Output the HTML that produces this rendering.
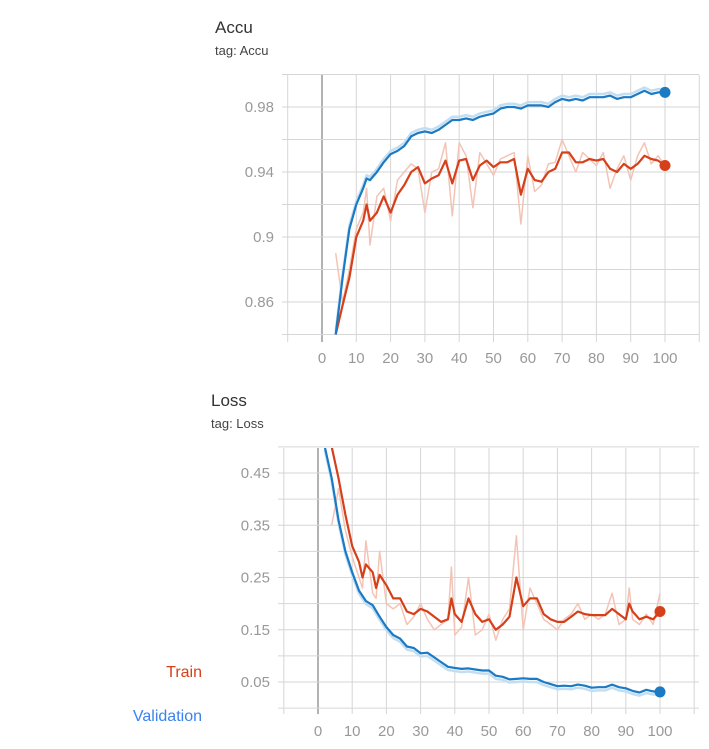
<!DOCTYPE html>
<html><head><meta charset="utf-8"><style>
html,body{margin:0;padding:0;background:#fff;width:709px;height:749px;overflow:hidden;font-family:"Liberation Sans",sans-serif}
svg text{font-family:"Liberation Sans",sans-serif}
</style></head><body>
<svg id="svg" width="709" height="749" xmlns="http://www.w3.org/2000/svg">
<text x="215" y="33" font-size="17" fill="#333">Accu</text>
<text x="215" y="55" font-size="13" fill="#444">tag: Accu</text>
<text x="211" y="406" font-size="17" fill="#333">Loss</text>
<text x="211" y="428" font-size="13" fill="#444">tag: Loss</text>
<text x="202" y="677" font-size="16" fill="#d5401a" text-anchor="end">Train</text>
<text x="202" y="721" font-size="16" fill="#3b82f0" text-anchor="end">Validation</text>
<g id="accu"></g>
<g id="loss"></g>
</svg>
<script>
const xTicks=[0,10,20,30,40,50,60,70,80,90,100];
const accuYTicks=[0.86,0.9,0.94,0.98];
const accuYTickLabels=["0.86","0.9","0.94","0.98"];
const lossYTicks=[0.05,0.15,0.25,0.35,0.45];
const lossYTickLabels=["0.05","0.15","0.25","0.35","0.45"];

const accuValEpochs=[4,6,8,10,12,13,14,16,18,20,22,24,26,28,30,32,34,36,38,40,42,44,46,48,50,52,54,56,58,60,62,64,66,68,70,72,74,76,78,80,82,84,86,88,90,92,94,96,98,100];
const accuVal=[0.84,0.875,0.905,0.92,0.93,0.936,0.935,0.94,0.946,0.951,0.953,0.956,0.962,0.964,0.965,0.964,0.966,0.969,0.972,0.972,0.973,0.972,0.974,0.975,0.976,0.979,0.980,0.980,0.979,0.981,0.981,0.981,0.980,0.983,0.985,0.984,0.985,0.984,0.986,0.986,0.986,0.987,0.985,0.986,0.986,0.988,0.990,0.988,0.989,0.989];
const accuTrainEpochs=[4,6,8,10,12,13,14,16,18,20,22,24,26,28,30,32,34,36,38,40,42,44,46,48,50,52,54,56,58,60,62,64,66,68,70,72,74,76,78,80,82,84,86,88,90,92,94,96,98,100];
const accuTrain=[0.84,0.858,0.875,0.9,0.91,0.92,0.91,0.915,0.925,0.915,0.926,0.932,0.94,0.943,0.933,0.936,0.938,0.947,0.933,0.947,0.948,0.935,0.944,0.947,0.943,0.946,0.946,0.948,0.926,0.942,0.935,0.934,0.940,0.942,0.952,0.952,0.946,0.946,0.948,0.947,0.948,0.942,0.940,0.945,0.942,0.945,0.950,0.948,0.947,0.944];
const accuTrainRaw=[0.89,0.86,0.88,0.905,0.915,0.93,0.895,0.925,0.93,0.91,0.935,0.94,0.945,0.942,0.915,0.94,0.942,0.958,0.913,0.958,0.95,0.918,0.952,0.945,0.938,0.948,0.95,0.952,0.908,0.95,0.928,0.932,0.945,0.946,0.96,0.95,0.94,0.952,0.948,0.944,0.952,0.93,0.942,0.95,0.935,0.95,0.958,0.945,0.95,0.944];

const lossValEpochs=[2,4,6,8,10,12,14,16,18,20,22,24,26,28,30,32,34,36,38,40,42,44,46,48,50,52,54,56,58,60,62,64,66,68,70,72,74,76,78,80,82,84,86,88,90,92,94,96,98,100];
const lossVal=[0.5,0.44,0.36,0.30,0.26,0.225,0.205,0.197,0.175,0.155,0.14,0.133,0.118,0.115,0.105,0.106,0.097,0.088,0.079,0.077,0.075,0.076,0.074,0.072,0.072,0.062,0.060,0.055,0.056,0.057,0.056,0.056,0.050,0.046,0.042,0.043,0.042,0.045,0.043,0.039,0.040,0.040,0.045,0.040,0.038,0.033,0.030,0.035,0.032,0.031];
const lossTrainEpochs=[4,6,8,10,12,13,14,16,17,18,20,22,24,26,28,30,32,34,36,38,39,40,42,44,46,48,50,52,54,56,58,60,62,64,66,68,70,72,74,76,78,80,82,84,86,88,90,91,92,94,96,98,100];
const lossTrain=[0.5,0.44,0.37,0.31,0.28,0.25,0.275,0.26,0.23,0.255,0.235,0.21,0.21,0.185,0.18,0.19,0.185,0.175,0.165,0.17,0.21,0.18,0.165,0.21,0.18,0.165,0.17,0.15,0.16,0.175,0.25,0.195,0.21,0.21,0.18,0.17,0.165,0.165,0.175,0.185,0.18,0.178,0.178,0.178,0.19,0.18,0.17,0.20,0.185,0.17,0.175,0.17,0.185];
const lossTrainRaw=[0.35,0.42,0.34,0.29,0.25,0.23,0.32,0.22,0.21,0.30,0.2,0.19,0.2,0.16,0.175,0.2,0.17,0.15,0.16,0.17,0.27,0.14,0.155,0.25,0.14,0.15,0.18,0.13,0.17,0.19,0.33,0.15,0.23,0.2,0.17,0.16,0.15,0.17,0.18,0.2,0.17,0.18,0.17,0.18,0.22,0.16,0.17,0.23,0.17,0.16,0.18,0.16,0.22];

const NS="http://www.w3.org/2000/svg";
function mk(parent,tag,attrs){const e=document.createElementNS(NS,tag);for(const k in attrs)e.setAttribute(k,attrs[k]);parent.appendChild(e);return e;}

function drawChart(g,cfg){
  const sx=v=>cfg.x0+(v-0)*(cfg.x100-cfg.x0)/100;
  const sy=v=>cfg.yA+(v-cfg.vA)*(cfg.yB-cfg.yA)/(cfg.vB-cfg.vA);
  for(let t=-10;t<=110;t+=10){
    const l=mk(g,'line',{x1:sx(t),x2:sx(t),y1:cfg.top,y2:cfg.bottom+6,stroke:t===0?'#999':'#d6d6d6','stroke-width':t===0?1.5:1});
    
    
  }
  for(let v=cfg.gridStart;v<=cfg.gridEnd+1e-9;v+=cfg.gridStep){
    const l=mk(g,'line',{x1:cfg.left-6,x2:cfg.right,y1:sy(v),y2:sy(v),stroke:'#d6d6d6','stroke-width':1});
    
    
  }
  xTicks.forEach(t=>{
    const tx=mk(g,'text',{x:sx(t),y:cfg.xLabelY,'font-size':15,fill:'#999','text-anchor':'middle'});
    tx.textContent=t;
    
    
  });
  cfg.yTicks.forEach((t,i)=>{
    const tx=mk(g,'text',{x:cfg.left-14,y:sy(t)+5,'font-size':15,fill:'#999','text-anchor':'end'});
    tx.textContent=cfg.yLabels[i];
    
    
  });
  const cid='clip'+cfg.id;
  const defs=mk(g,'defs',{});
  const cp=mk(defs,'clipPath',{id:cid});
  mk(cp,'rect',{x:cfg.left,y:cfg.top,width:cfg.right-cfg.left,height:cfg.bottom-cfg.top});
  const pg=mk(g,'g',{'clip-path':'url(#'+cid+')'});
  const path=(xs,ys)=>xs.map((x,i)=>(i?'L':'M')+sx(x).toFixed(1)+','+sy(ys[i]).toFixed(1)).join('');
  cfg.series.forEach(s=>{
    const p=mk(pg,'path',{d:path(s.x,s.y),fill:'none',stroke:s.color,'stroke-width':s.w,'stroke-linejoin':'round',opacity:s.op||1});
    
    
  });
  cfg.series.filter(s=>s.dot).forEach(s=>{
    const n=s.x.length-1;
    const c=mk(g,'circle',{cx:sx(s.x[n]),cy:sy(s.y[n]),r:5.5,fill:s.color});
    
    
  });
}

drawChart(document.getElementById('accu'),{id:'a',x0:322,x100:665,left:288,right:699,top:75,bottom:336,
  vA:0.98,yA:107,vB:0.86,yB:302,gridStart:0.84,gridEnd:1.0,gridStep:0.02,xLabelY:363,
  yTicks:accuYTicks,yLabels:accuYTickLabels,
  series:[
    {x:accuTrainEpochs,y:accuTrainRaw,color:'#f3c4b6',w:1.5,name:'accu-train-raw'},
    {x:accuValEpochs,y:accuVal.map(v=>v+0.002),color:'#c4def1',w:2.5,name:'accu-val-raw'},
    {x:accuTrainEpochs,y:accuTrain,color:'#d5401a',w:2.2,name:'accu-train-line',dot:true},
    {x:accuValEpochs,y:accuVal,color:'#1a7ac4',w:2.2,name:'accu-val-line',dot:true}
  ]});
drawChart(document.getElementById('loss'),{id:'l',x0:318,x100:660,left:284,right:699,top:448,bottom:708,
  vA:0.45,yA:473,vB:0.05,yB:682,gridStart:0.0,gridEnd:0.5,gridStep:0.05,xLabelY:736,
  yTicks:lossYTicks,yLabels:lossYTickLabels,
  series:[
    {x:lossTrainEpochs,y:lossTrainRaw,color:'#f3c4b6',w:1.5,name:'loss-train-raw'},
    {x:lossValEpochs,y:lossVal.map(v=>v-0.006),color:'#c4def1',w:2.5,name:'loss-val-raw'},
    {x:lossTrainEpochs,y:lossTrain,color:'#d5401a',w:2.2,name:'loss-train-line',dot:true},
    {x:lossValEpochs,y:lossVal,color:'#1a7ac4',w:2.2,name:'loss-val-line',dot:true}
  ]});
</script>
</body></html>
